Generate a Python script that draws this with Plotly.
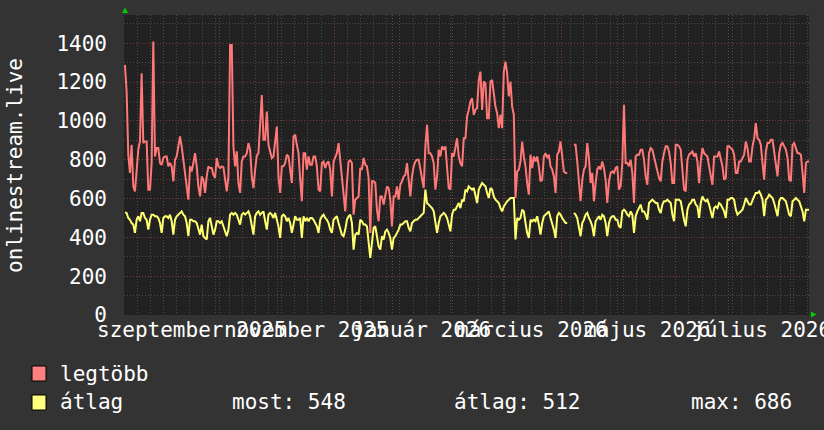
import plotly.graph_objects as go
import pandas as pd

# ---------------- data ----------------
# "legtöbb" (maximum) series, sampled evenly across the year
legtobb_aug_nov = [
    1289, 1151, 826, 732, 877, 663, 637, 749, 852, 894,
    1246, 886, 894, 894, 646, 646, 783, 1409, 817, 860,
    860, 783, 774, 809, 817, 817, 766, 783, 766, 689,
    800, 817, 869, 920, 869, 800, 732, 646, 594, 766,
    740, 783, 834, 766, 663, 611, 714, 697, 629, 714,
    766, 757, 757, 723, 706, 809, 766, 757, 766, 762,
    697, 637, 714, 1391, 1391, 869, 766, 843, 680, 629,
    791, 817, 817, 834, 886, 852, 714, 654, 749, 821,
    834, 1023, 1134, 903, 903, 1049, 877, 843, 809, 817,
    903, 971, 714, 629, 766, 766, 783, 826, 817, 749,
    680, 920,
]
legtobb_nov_feb = [
    929, 877, 834, 697, 586, 834, 834, 749, 817, 774,
    774, 817, 817, 766, 646, 637, 783, 791, 757, 783,
    791, 749, 611, 791, 809, 834, 886, 791, 714, 603,
    534, 680, 791, 797, 783, 517, 594, 603, 611, 757,
    749, 809, 774, 766, 706, 423, 689, 689, 680, 543,
    483, 611, 611, 569, 620, 663, 654, 594, 457, 611,
    611, 663, 594, 671, 689, 714, 723, 783, 697, 611,
    714, 766, 791, 800, 800, 749, 706, 654, 869, 980,
    834, 834, 817, 783, 646, 714, 852, 817, 869, 852,
    869, 749, 654, 646, 834, 817, 877, 911, 817, 783,
    766, 911,
]
legtobb_feb_may = [
    911, 1023, 1057, 1100, 1117, 1031, 1057, 1066, 1211, 1254,
    1057, 1203, 1194, 1014, 1014, 1203, 1211, 1126, 1074, 1040,
    963, 1031, 963, 1254, 1306, 1246, 1126, 1203, 1074, 1031,
    603, 740, 749, 791, 894, 817, 766, 680, 620, 826,
    757, 817, 791, 817, 766, 689, 697, 817, 834, 809,
    826, 766, 749, 714, 629, 826, 843, 894, 817, 740,
    732, 732, None, None, None, 877, 877, 791, 680, 586,
    697, 749, 766, 886, 809, 680, 732, 586, 680, 749,
    766, 749, 791, 757, 697, 577, 689, 732, 740, 732,
    757, 766, 646, 663, 783, 1083, 783, 783, 766, 800,
    732, 577,
]
legtobb_may_aug = [
    817, 826, 826, 852, 852, 800, 714, 671, 834, 860,
    852, 817, 783, 749, 706, 689, 791, 834, 869, 869,
    843, 783, 680, 680, 877, 877, 869, 852, 732, 646,
    637, 800, 826, 834, 843, 817, 834, 791, 680, 791,
    860, 834, 826, 817, 766, 714, 671, 817, 817, 817,
    843, 800, 766, 697, 706, 869, 869, 860, 852, 826,
    732, 732, 791, 791, 809, 826, 894, 860, 791, 791,
    869, 911, 989, 911, 903, 877, 783, 697, 843, 886,
    886, 903, 903, 843, 783, 714, 834, 877, 886, 869,
    852, 809, 697, 689, 877, 886, 860, 834, 834, 826,
    732, 629, 783, 791, 791,
]

# "átlag" (average) series, same sampling
atlag_aug_nov = [
    529, 526, 500, 491, 474, 466, 423, 491, 509, 483,
    526, 526, 500, 491, 440, 491, 517, 517, 509, 509,
    500, 474, 423, 500, 509, 509, 500, 517, 483, 414,
    491, 509, 517, 526, 534, 517, 509, 474, 406, 491,
    491, 483, 483, 474, 440, 414, 466, 406, 397, 389,
    483, 500, 457, 414, 440, 483, 483, 474, 483, 457,
    423, 406, 440, 517, 526, 517, 526, 517, 491, 466,
    517, 526, 517, 526, 534, 509, 457, 414, 509, 526,
    534, 517, 526, 534, 483, 440, 517, 526, 517, 500,
    526, 491, 457, 397, 509, 517, 509, 483, 500, 474,
    423, 466,
]
atlag_nov_feb = [
    509, 491, 491, 500, 397, 509, 483, 500, 483, 500,
    500, 491, 474, 457, 423, 491, 509, 517, 500, 491,
    474, 440, 423, 491, 500, 509, 474, 440, 414, 406,
    440, 491, 509, 517, 474, 337, 414, 423, 414, 491,
    483, 466, 466, 457, 372, 294, 372, 449, 457, 406,
    354, 337, 406, 389, 431, 440, 423, 397, 337, 397,
    406, 423, 440, 466, 466, 474, 483, 483, 449, 431,
    474, 483, 491, 491, 500, 509, 517, 526, 646, 577,
    569, 560, 551, 534, 483, 423, 474, 509, 517, 526,
    517, 500, 466, 431, 517, 543, 543, 560, 577, 551,
    594, 586,
]
atlag_feb_may = [
    646, 637, 663, 654, 646, 654, 620, 577, 646, 663,
    680, 671, 663, 629, 603, 654, 646, 611, 594, 586,
    577, 551, 534, 560, 577, 586, 594, 603, 603, 603,
    389, 500, 491, 500, 543, 534, 474, 423, 397, 491,
    483, 491, 483, 509, 466, 414, 474, 509, 517, 526,
    534, 500, 474, 440, 397, 509, 526, 517, 500, 483,
    474, 474, None, None, None, 526, 517, 500, 440, 406,
    474, 491, 517, 526, 500, 483, 457, 406, 483, 500,
    509, 491, 517, 509, 474, 406, 474, 500, 509, 509,
    491, 491, 457, 449, 534, 543, 534, 517, 509, 534,
    517, 423,
]
atlag_may_aug = [
    509, 534, 551, 569, 534, 534, 517, 491, 577, 586,
    594, 586, 577, 577, 543, 526, 569, 586, 586, 594,
    586, 577, 517, 483, 594, 594, 594, 586, 526, 491,
    457, 543, 569, 577, 594, 594, 569, 560, 500, 577,
    611, 594, 586, 594, 569, 534, 500, 551, 560, 551,
    577, 569, 551, 534, 500, 594, 594, 603, 603, 594,
    543, 517, 526, 534, 543, 569, 603, 586, 569, 569,
    594, 611, 629, 629, 637, 620, 594, 509, 594, 603,
    620, 611, 603, 577, 534, 509, 586, 603, 603, 594,
    586, 551, 517, 509, 586, 594, 603, 594, 586, 560,
    534, 483, 543, 543, 543,
]

legtobb = legtobb_aug_nov + legtobb_nov_feb + legtobb_feb_may + legtobb_may_aug
atlag = atlag_aug_nov + atlag_nov_feb + atlag_feb_may + atlag_may_aug

sample_start = "2025-08-11 12:00"
sample_end = "2026-08-11 03:00"
times = pd.date_range(sample_start, sample_end, periods=len(legtobb))

x_range = ["2025-08-11", "2026-08-11"]
y_range = [0, 1546]
y_ticks = [0, 200, 400, 600, 800, 1000, 1200, 1400]
# labels sit in the middle of their month
month_label_dates = ["2025-09-16 00:00", "2025-11-16 00:00", "2026-01-16 12:00",
                     "2026-03-16 12:00", "2026-05-16 12:00", "2026-07-16 12:00"]
month_labels = ["szeptember 2025", "november 2025", "január 2026",
                "március 2026", "május 2026", "július 2026"]

stat_most = 548
stat_atlag = 512
stat_max = 686

# ---------------- styling ----------------
W, H = 824, 430
PL, PR, PT, PB = 124, 809, 15, 315   # plot area in window pixels
FONT = "DejaVu Sans Mono"
BG = "#333333"
CANVAS = "#212121"
RED = "#FF7878"
YEL = "#FFFF70"
MGRID = "#7a3a3a"
GRID = "#4a4a4a"


def px_x(px):
    return (px - PL) / (PR - PL)


def px_y(py):
    return (PB - py) / (PB - PT)


fig = go.Figure()
fig.add_trace(go.Scatter(x=times, y=legtobb, mode="lines",
                         line=dict(color=RED, width=2), connectgaps=False,
                         name="legtöbb", hoverinfo="skip"))
fig.add_trace(go.Scatter(x=times, y=atlag, mode="lines",
                         line=dict(color=YEL, width=2), connectgaps=False,
                         name="átlag", hoverinfo="skip"))

fig.update_layout(
    width=W, height=H,
    margin=dict(l=PL, r=W - PR, t=PT, b=H - PB, pad=0, autoexpand=False),
    paper_bgcolor=BG, plot_bgcolor=CANVAS,
    showlegend=False,
    font=dict(family=FONT, color="white", size=21),
)

fig.update_xaxes(
    type="date", range=x_range, showticklabels=False, ticks="",
    dtick="M1", tick0="2025-09-01",
    showgrid=True, gridcolor=MGRID, gridwidth=1, griddash="1px,2px",
    minor=dict(dtick=7 * 86400000, tick0="2025-08-11", showgrid=True,
               gridcolor=GRID, gridwidth=1, griddash="1px,2px"),
    zeroline=False, showline=False, automargin=False,
)
fig.update_yaxes(
    range=y_range, tickmode="array", tickvals=y_ticks,
    tickfont=dict(family=FONT, size=21, color="white"),
    ticks="", ticklabelstandoff=16,
    showgrid=True, gridcolor=MGRID, gridwidth=1, griddash="1px,2px",
    minor=dict(dtick=100, tick0=0, showgrid=True, gridcolor=GRID,
               gridwidth=1, griddash="1px,2px"),
    zeroline=False, showline=False, automargin=False,
)

ann = []
for d, t in zip(month_label_dates, month_labels):
    ann.append(dict(x=d, xref="x", y=px_y(330), yref="paper", text=t,
                    showarrow=False, xanchor="center", yanchor="middle",
                    font=dict(family=FONT, size=21, color="white")))
ann.append(dict(x=px_x(15), xref="paper", y=0.5, yref="paper",
                text="onlinestream.live", textangle=-90, showarrow=False,
                xanchor="center", yanchor="middle",
                font=dict(family=FONT, size=21, color="white")))

legend_rows = [
    (374, "legtöbb"),
    (402, "átlag"),
]
for py, t in legend_rows:
    ann.append(dict(x=px_x(58), xref="paper", y=px_y(py), yref="paper",
                    text=t, showarrow=False, xanchor="left", yanchor="middle",
                    font=dict(family=FONT, size=21, color="white")))
for px, t in [(230, f"most: {stat_most}"), (452, f"átlag: {stat_atlag}"),
              (689, f"max: {stat_max}")]:
    ann.append(dict(x=px_x(px), xref="paper", y=px_y(402), yref="paper",
                    text=t, showarrow=False, xanchor="left", yanchor="middle",
                    font=dict(family=FONT, size=21, color="white")))
fig.update_layout(annotations=ann)

shapes = []
for (y0, y1), col in [((366, 381), "#FF8080"), ((395, 410), "#FFFF80")]:
    shapes.append(dict(type="rect", xref="paper", yref="paper",
                       x0=px_x(32), x1=px_x(46), y0=px_y(y1), y1=px_y(y0),
                       fillcolor=col, line=dict(color="black", width=1)))


def tri(points):
    p = " L ".join(f"{px_x(a):.5f},{px_y(b):.5f}" for a, b in points)
    return "M " + p + " Z"


shapes.append(dict(type="path", xref="paper", yref="paper",
                   path=tri([(122, 13), (128, 13), (125, 7.5)]),
                   fillcolor="#00cc00", line=dict(color="#00cc00", width=0)))
shapes.append(dict(type="path", xref="paper", yref="paper",
                   path=tri([(811, 311.5), (811, 317.5), (816.5, 314.5)]),
                   fillcolor="#00cc00", line=dict(color="#00cc00", width=0)))
fig.update_layout(shapes=shapes)

# remove the default page margin so the figure fills the window
page_css = ("document.body.style.margin='0';"
            "document.body.style.padding='0';"
            "document.body.style.background='%s';"
            "document.body.style.overflow='hidden';" % BG)
fig.write_html("out.html", post_script=page_css,
               config={"displayModeBar": False, "staticPlot": True})
